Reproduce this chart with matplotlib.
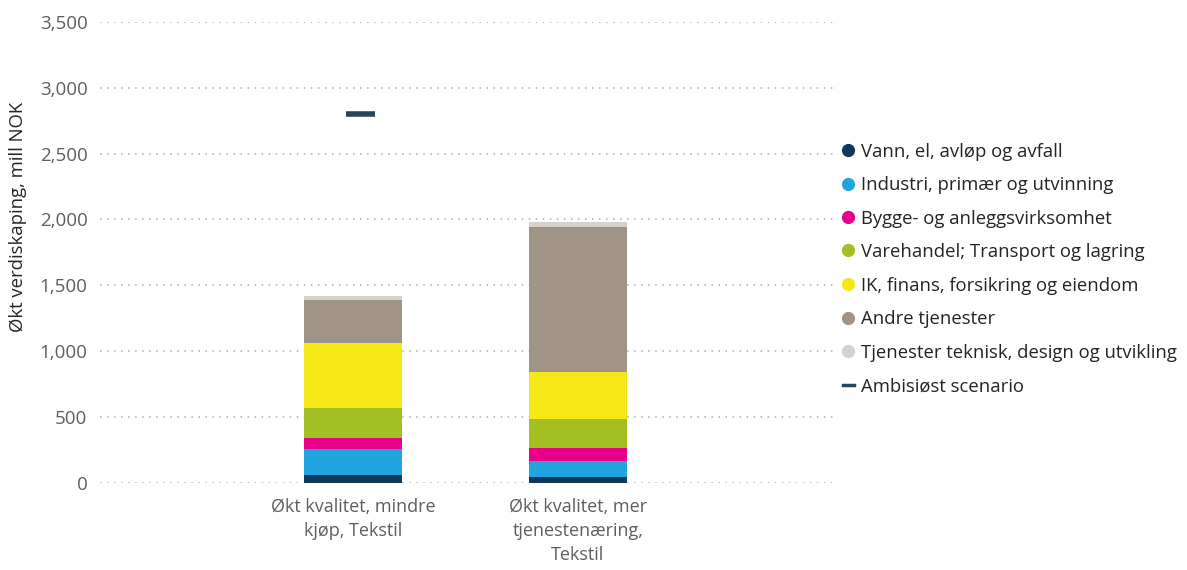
import matplotlib
matplotlib.use("Agg")
import matplotlib.pyplot as plt
from matplotlib.lines import Line2D
import numpy as np

categories = ["Økt kvalitet, mindre\nkjøp, Tekstil", "Økt kvalitet, mer\ntjenestenæring,\nTekstil"]
series_names = ["Vann, el, avløp og avfall", "Industri, primær og utvinning",
                "Bygge- og anleggsvirksomhet", "Varehandel; Transport og lagring",
                "IK, finans, forsikring og eiendom", "Andre tjenester",
                "Tjenester teknisk, design og utvikling"]
vann = [58, 46]
industri = [196, 119]
bygge = [84, 102]
varehandel = [228, 215]
ik = [495, 358]
andre = [329, 1103]
tjenester = [31, 36]
ambisiost = [2800, None]
ambisiost_label = "Ambisiøst scenario"
colors = ["#10385C", "#22A4E1", "#E8008A", "#A3BF22", "#F6E716", "#A09487", "#D8D1CA"]
yticks = [0, 500, 1000, 1500, 2000, 2500, 3000, 3500]

plt.rcParams['font.family'] = ['Open Sans', 'DejaVu Sans']

fig = plt.figure(figsize=(11.87, 5.70), dpi=100)
W, H = 1187, 570
ax = fig.add_axes([100 / W, 1 - 482.7 / H, 738 / W, (482.7 - 22) / H])

x = np.arange(len(categories))
series = [vann, industri, bygge, varehandel, ik, andre, tjenester]
bottom = np.zeros(len(categories))
for vals, c, name in zip(series, colors, series_names):
    v = np.array(vals, dtype=float)
    ax.bar(x, v, bottom=bottom, width=0.436, color=c, edgecolor='none', zorder=3, label=name)
    bottom += v

for xi, val in zip(x, ambisiost):
    if val is not None:
        ax.hlines(val, xi - 0.03, xi + 0.10, color="#27455A", linewidth=4, zorder=4)

ax.set_xlim(-1.124, 2.156)
ax.set_ylim(0, 3500)
ax.set_yticks(yticks)
ax.set_yticklabels([f"{t:,}" for t in yticks], fontsize=13.5, color="#605E5C")
ax.set_xticks(x)
ax.set_xticklabels(categories, fontsize=13, color="#605E5C", linespacing=1.42)
ax.tick_params(axis='both', length=0)
ax.tick_params(axis='y', pad=9)
ax.tick_params(axis='x', pad=11)
for s in ax.spines.values():
    s.set_visible(False)
ax.grid(axis='y', linestyle=(0, (1, 3.6)), color="#8DB4D0", linewidth=1.1, zorder=0)
ax.set_axisbelow(True)
fig.text(18 / W, 1 - 217 / H, "Økt verdiskaping, mill NOK", rotation=90,
         ha='center', va='center', fontsize=13.3, color="#252423")

# legend (manual layout)
row0, dy = 150, 33.5
for i, (name, c) in enumerate(zip(series_names, colors)):
    yy = 1 - (row0 + i * dy) / H
    fig.add_artist(Line2D([848 / W], [yy], marker='o', linestyle='none', markersize=9.5,
                          markerfacecolor=c, markeredgecolor='none', transform=fig.transFigure))
    fig.text(861 / W, yy, name, fontsize=13.3, color="#252423", ha='left', va='center_baseline')
yy = 1 - (row0 + len(series_names) * dy) / H
fig.add_artist(Line2D([843 / W, 854 / W], [yy, yy], color="#27455A", linewidth=2.5,
                      transform=fig.transFigure))
fig.text(861 / W, yy, ambisiost_label, fontsize=13.3, color="#252423", ha='left', va='center_baseline')

fig.savefig("out.png", dpi=100)
